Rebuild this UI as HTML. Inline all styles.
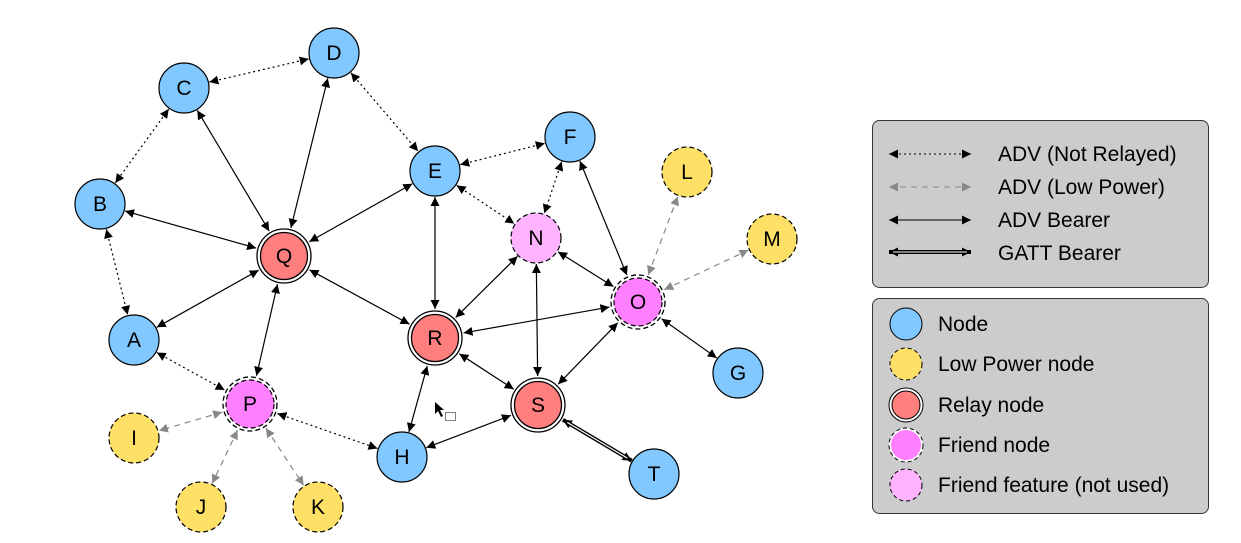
<!DOCTYPE html>
<html><head><meta charset="utf-8"><style>
html,body{margin:0;padding:0;background:#fff;}
svg{display:block;font-family:"Liberation Sans",Arial,sans-serif;}
</style></head><body>
<svg id="s" width="1241" height="543" viewBox="0 0 1241 543" xmlns="http://www.w3.org/2000/svg">
<defs>
<marker id="mb" viewBox="0 0 10 10" refX="10" refY="5" markerWidth="9" markerHeight="9" markerUnits="userSpaceOnUse" orient="auto-start-reverse"><path d="M0,0 L10,5 L0,10 z" fill="#000"/></marker>
<marker id="mg" viewBox="0 0 10 10" refX="10" refY="5" markerWidth="9" markerHeight="9" markerUnits="userSpaceOnUse" orient="auto-start-reverse"><path d="M0,0 L10,5 L0,10 z" fill="#888"/></marker>
</defs>
<g id="edges"></g>
<g id="nodes"></g>
<!-- cursor -->
<path d="M435,402 L435,414 L438,411 L441,417 L443,416 L440,410 L444,410 z" fill="#000"/>
<rect x="445.5" y="412.5" width="10" height="8" fill="#fff" stroke="#000" stroke-dasharray="1,1"/>
<!-- legend -->
<rect x="872.5" y="120.5" width="336" height="167" rx="7" fill="#cccccc" stroke="#333" stroke-width="1"/>
<rect x="872.5" y="298.5" width="336" height="215" rx="7" fill="#cccccc" stroke="#333" stroke-width="1"/>
<line x1="889" y1="154" x2="971" y2="154" stroke="#000" stroke-dasharray="2,3" marker-start="url(#mb)" marker-end="url(#mb)"/>
<line x1="889" y1="187" x2="971" y2="187" stroke="#888" stroke-dasharray="6,5" marker-start="url(#mg)" marker-end="url(#mg)"/>
<line x1="889" y1="220" x2="971" y2="220" stroke="#000" marker-start="url(#mb)" marker-end="url(#mb)"/>
<line x1="889" y1="252" x2="971" y2="252" stroke="#000" stroke-width="4" marker-start="url(#mb)" marker-end="url(#mb)"/>
<line x1="893" y1="252" x2="967" y2="252" stroke="#ccc" stroke-width="1.2"/>
<g font-size="21" fill="#000">
<text x="998" y="161">ADV (Not Relayed)</text>
<text x="998" y="194">ADV (Low Power)</text>
<text x="998" y="227">ADV Bearer</text>
<text x="998" y="260">GATT Bearer</text>
<text x="938" y="331">Node</text>
<text x="938" y="371">Low Power node</text>
<text x="938" y="412">Relay node</text>
<text x="938" y="452">Friend node</text>
<text x="938" y="492">Friend feature (not used)</text>
</g>
<circle cx="906" cy="324" r="16" fill="#80c8ff" stroke="#000"/>
<circle cx="906" cy="364" r="16" fill="#ffe066" stroke="#000" stroke-dasharray="4,3"/>
<circle cx="906" cy="405" r="17" fill="#fff" stroke="#000"/>
<circle cx="906" cy="405" r="14" fill="#ff7f7f" stroke="#000"/>
<circle cx="906" cy="445" r="17" fill="#fff" stroke="#000" stroke-dasharray="4,3"/>
<circle cx="906" cy="445" r="15" fill="#ff80ff" stroke="none"/>
<circle cx="906" cy="485" r="16" fill="#ffb3ff" stroke="#000" stroke-dasharray="4,3"/>
</svg>
<script>
var N={C:[184,88,'n'],D:[334,53,'n'],B:[100,204,'n'],E:[435,171,'n'],F:[570,137,'n'],L:[687,172,'l'],M:[772,239,'l'],
N:[536,238,'f2'],Q:[284,256,'r'],A:[134,340,'n'],R:[435,338,'r'],O:[638,302,'f'],G:[738,373,'n'],P:[250,404,'f'],
S:[538,405,'r'],I:[134,438,'l'],H:[402,457,'n'],T:[654,474,'n'],J:[201,507,'l'],K:[318,507,'l']};
var E=[['C','D','d'],['C','B','d'],['D','E','d'],['E','F','d'],['E','N','d'],['F','N','d'],['B','A','d'],['A','P','d'],['P','H','d'],
['O','L','g'],['O','M','g'],['P','I','g'],['P','J','g'],['P','K','g'],
['C','Q','s'],['D','Q','s'],['B','Q','s'],['E','Q','s'],['Q','A','s'],['Q','P','s'],['Q','R','s'],['E','R','s'],['N','R','s'],['N','O','s'],['N','S','s'],['F','O','s'],['R','O','s'],['R','H','s'],['R','S','s'],['S','O','s'],['O','G','s'],['H','S','s'],['S','T','t']];
var ns="http://www.w3.org/2000/svg",eg=document.getElementById('edges'),ng=document.getElementById('nodes');
function el(t,a,p){var e=document.createElementNS(ns,t);for(var k in a)e.setAttribute(k,a[k]);p.appendChild(e);return e;}
function rad(k){var t=N[k][2];return (t=='r'||t=='f')?28:25;}
E.forEach(function(e){var a=N[e[0]],b=N[e[1]],dx=b[0]-a[0],dy=b[1]-a[1],L=Math.hypot(dx,dy),ux=dx/L,uy=dy/L;
var r1=rad(e[0])+1,r2=rad(e[1])+1;var x1=a[0]+ux*r1,y1=a[1]+uy*r1,x2=b[0]-ux*r2,y2=b[1]-uy*r2;
var at={x1:x1,y1:y1,x2:x2,y2:y2,'marker-start':'url(#mb)','marker-end':'url(#mb)',stroke:'#000','stroke-width':1.2};
if(e[2]=='d'){at['stroke-dasharray']='2,3';}
if(e[2]=='g'){at.stroke='#888';at['stroke-dasharray']='6,5';at['marker-start']='url(#mg)';at['marker-end']='url(#mg)';}
if(e[2]=='t'){at['stroke-width']=4;}
el('line',at,eg);
if(e[2]=='t'){el('line',{x1:x1+ux*5,y1:y1+uy*5,x2:x2-ux*5,y2:y2-uy*5,stroke:'#fff','stroke-width':1.2},eg);}
});
for(var k in N){var n=N[k],x=n[0],y=n[1],t=n[2];
if(t=='n')el('circle',{cx:x,cy:y,r:25,fill:'#80c8ff',stroke:'#000','stroke-width':1.2},ng);
if(t=='l')el('circle',{cx:x,cy:y,r:25,fill:'#ffe066',stroke:'#000','stroke-width':1.2,'stroke-dasharray':'5,3'},ng);
if(t=='f2')el('circle',{cx:x,cy:y,r:25,fill:'#ffb3ff',stroke:'#000','stroke-width':1.2,'stroke-dasharray':'5,3'},ng);
if(t=='r'){el('circle',{cx:x,cy:y,r:27,fill:'#fff',stroke:'#000','stroke-width':1.3},ng);el('circle',{cx:x,cy:y,r:23.5,fill:'#ff7f7f',stroke:'#000','stroke-width':1.3},ng);}
if(t=='f'){el('circle',{cx:x,cy:y,r:26,fill:'#ff80ff',stroke:'#fff','stroke-width':4},ng);el('circle',{cx:x,cy:y,r:27,fill:'none',stroke:'#000','stroke-width':1.3,'stroke-dasharray':'5,3'},ng);el('circle',{cx:x,cy:y,r:24,fill:'none',stroke:'#000','stroke-width':1.2,'stroke-dasharray':'5,3'},ng);}
var tx=el('text',{x:x,y:y+7,'text-anchor':'middle','font-size':21,fill:'#000'},ng);tx.textContent=k;}
</script>
</body></html>
